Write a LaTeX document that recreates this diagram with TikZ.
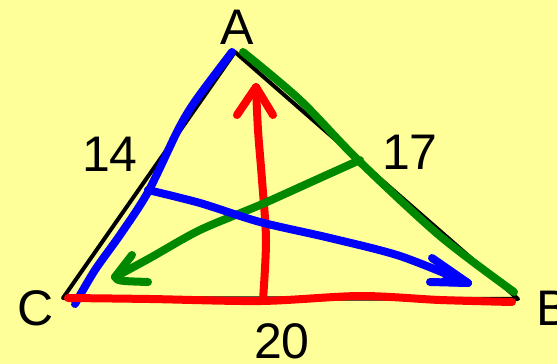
\documentclass[tikz,border=0pt]{standalone}
\usepackage{fontspec}
\setmainfont{Liberation Sans}
\definecolor{bgy}{RGB}{255,255,153}
\definecolor{grn}{RGB}{0,136,0}
\begin{document}
\begin{tikzpicture}[x=1pt,y=-1pt,
  edge/.style={line width=4pt,line cap=round,line join=round},
  pen/.style={line width=8pt,line cap=round,line join=round},
  lbl/.style={font=\fontsize{50}{60}\selectfont,inner sep=0pt}]
\useasboundingbox (0,0) rectangle (557,364);
\fill[bgy] (0,0) rectangle (557,364);
% vertices
\coordinate (A) at (235,52);
\coordinate (B) at (518,299);
\coordinate (C) at (63,298);
% black triangle
\draw[edge] (A) -- (B) -- (C) -- cycle;
% blue side AC
\coordinate (b1) at (232,52);
\coordinate (b2) at (196,100);
\coordinate (b3) at (178,130);
\coordinate (b4) at (148,192);
\coordinate (b5) at (120,235);
\coordinate (b6) at (95,270);
\coordinate (b7) at (75,304);
\draw[pen,blue] plot[smooth,tension=0.5] coordinates {(b1) (b2) (b3) (b4) (b5) (b6) (b7)};
% green side AB
\coordinate (g1) at (243,52);
\coordinate (g2) at (300,100);
\coordinate (g3) at (358,160);
\coordinate (g4) at (440,236);
\coordinate (g5) at (514,292);
\draw[pen,grn] plot[smooth,tension=0.5] coordinates {(g1) (g2) (g3) (g4) (g5)};
% red base
\coordinate (r1) at (68,298);
\coordinate (r2) at (150,299);
\coordinate (r3) at (261,301);
\coordinate (r4) at (360,296);
\coordinate (r5) at (440,300);
\coordinate (r6) at (512,302);
\draw[pen,red] plot[smooth,tension=0.5] coordinates {(r1) (r2) (r3) (r4) (r5) (r6)};
% red arrow
\coordinate (ra1) at (263,300);
\coordinate (ra2) at (266,240);
\coordinate (ra3) at (262,180);
\coordinate (ra4) at (258,130);
\coordinate (ra5) at (256,87);
\coordinate (rh1) at (237,115);
\coordinate (rh2) at (273,115);
\draw[pen,red] plot[smooth,tension=0.5] coordinates {(ra1) (ra2) (ra3) (ra4) (ra5)};
\draw[pen,red] (rh1) -- (ra5) -- (rh2);
% green arrow
\coordinate (ga1) at (360,160);
\coordinate (ga2) at (320,178);
\coordinate (ga3) at (260,205);
\coordinate (ga4) at (200,230);
\coordinate (ga5) at (150,258);
\coordinate (ga6) at (115,277);
\coordinate (gh1) at (132,255);
\coordinate (gh2) at (148,282);
\draw[pen,grn] plot[smooth,tension=0.5] coordinates {(ga1) (ga2) (ga3) (ga4) (ga5) (ga6)};
\draw[pen,grn] (gh1) -- (ga6) .. controls (118,281) .. (gh2);
% blue arrow
\coordinate (ba1) at (148,190);
\coordinate (ba2) at (200,203);
\coordinate (ba3) at (260,222);
\coordinate (ba4) at (330,238);
\coordinate (ba5) at (400,256);
\coordinate (ba6) at (468,283);
\coordinate (bh1) at (432,258);
\coordinate (bh2) at (430,282);
\draw[pen,blue] plot[smooth,tension=0.5] coordinates {(ba1) (ba2) (ba3) (ba4) (ba5) (ba6)};
\draw[pen,blue] (bh1) -- (ba6) -- (bh2);
\fill[blue] (448,274) -- (468,279) -- (468,287) -- (432,285) -- cycle;
% labels
\node[lbl] (lA) at (237,27) {A};
\node[lbl] (l14) at (110,154) {14};
\node[lbl] (l17) at (410,152) {17};
\node[lbl] (lC) at (36,308) {C};
\node[lbl,anchor=west] (lB) at (536,308) {B};
\node[lbl] (l20) at (282,341) {20};
\end{tikzpicture}
\end{document}
